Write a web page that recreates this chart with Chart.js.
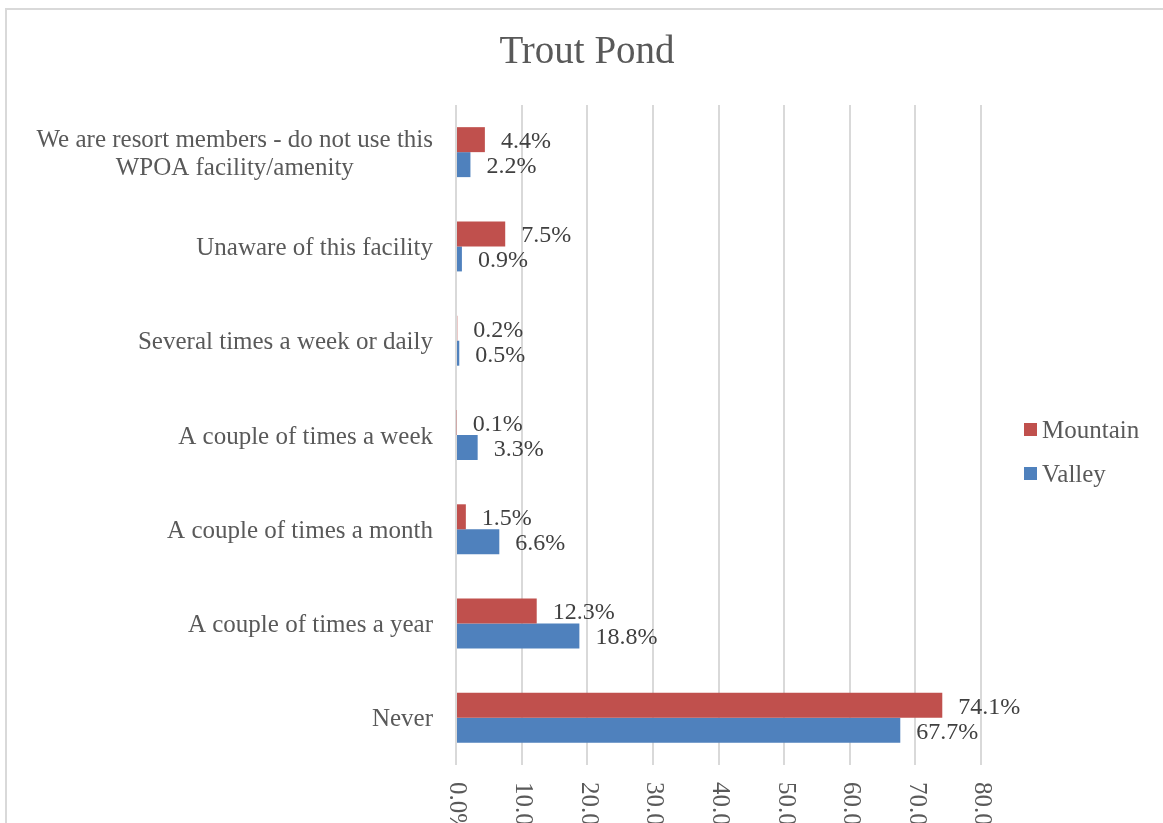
<!DOCTYPE html>
<html>
<head>
<meta charset="utf-8">
<script src="https://cdn.jsdelivr.net/npm/chart.js@4.4.1/dist/chart.umd.min.js"></script>
<style>
  html, body { margin: 0; padding: 0; background: #fff; overflow: hidden; }
  #box {
    position: absolute; left: 5px; top: 8px;
    width: 1160px; height: 860px;
    border: 2px solid #d9d9d9; background: #fff;
  }
  #chart { display: block; }
</style>
</head>
<body>
<div id="box"><canvas id="chart" width="1160" height="860"></canvas></div>
<script>
// ---- data ----
const categories = [
  ['We are resort members - do not use this', 'WPOA facility/amenity'],
  'Unaware of this facility',
  'Several times a week or daily',
  'A couple of times a week',
  'A couple of times a month',
  'A couple of times a year',
  'Never'
];
const mountainValues = [4.4, 7.5, 0.2, 0.1, 1.5, 12.3, 74.1];
const valleyValues = [2.2, 0.9, 0.5, 3.3, 6.6, 18.8, 67.7];
const xTickLabels = ['0.0%', '10.0%', '20.0%', '30.0%', '40.0%', '50.0%', '60.0%', '70.0%', '80.0%'];
const seriesNames = ['Mountain', 'Valley'];
const seriesColors = ['#C0504D', '#4F81BD'];

const FONT = "'Liberation Serif', 'Times New Roman', serif";

// tick labels, value labels and legend drawn on the canvas
const labelPlugin = {
  id: 'labelPlugin',
  afterDatasetsDraw(chart) {
    const ctx = chart.ctx;
    const area = chart.chartArea;
    const xs = chart.scales.x;
    const ys = chart.scales.y;
    ctx.save();

    // category labels (left)
    ctx.font = '25px ' + FONT;
    ctx.fillStyle = '#595959';
    ctx.textBaseline = 'middle';
    const right = area.left - 23;
    categories.forEach((lab, i) => {
      const cy = ys.getPixelForTick(i) + 2;
      if (Array.isArray(lab)) {
        const w = Math.max(...lab.map(l => ctx.measureText(l).width));
        ctx.textAlign = 'center';
        lab.forEach((l, j) => {
          ctx.fillText(l, right - w / 2, cy + (j - (lab.length - 1) / 2) * 28);
        });
      } else {
        ctx.textAlign = 'right';
        ctx.fillText(lab, right, cy);
      }
    });

    // x tick labels rotated clockwise
    xs.ticks.forEach((t, i) => {
      const px = xs.getPixelForValue(t.value);
      ctx.save();
      ctx.translate(px + 1, area.bottom + 17);
      ctx.rotate(Math.PI / 2);
      ctx.textAlign = 'left';
      ctx.textBaseline = 'middle';
      ctx.fillText(xTickLabels[i], 0, 0);
      ctx.restore();
    });

    // value labels
    ctx.font = '24px ' + FONT;
    ctx.fillStyle = '#404040';
    ctx.textAlign = 'left';
    ctx.textBaseline = 'middle';
    chart.data.datasets.forEach((ds, di) => {
      chart.getDatasetMeta(di).data.forEach((bar, i) => {
        ctx.fillText(ds.data[i].toFixed(1) + '%', bar.x + 16, bar.y + 2);
      });
    });

    // legend
    ctx.font = '25px ' + FONT;
    seriesNames.forEach((name, i) => {
      const cy = area.top + 324.5 + i * 44;
      const bx = area.right + 43;
      ctx.fillStyle = seriesColors[i];
      ctx.fillRect(bx, cy - 6.5, 13, 13);
      ctx.fillStyle = '#595959';
      ctx.fillText(name, bx + 18, cy + 2);
    });

    ctx.restore();
  }
};

new Chart(document.getElementById('chart'), {
  type: 'bar',
  data: {
    labels: categories,
    datasets: [
      { label: seriesNames[0], data: mountainValues, backgroundColor: seriesColors[0] },
      { label: seriesNames[1], data: valleyValues, backgroundColor: seriesColors[1] }
    ]
  },
  options: {
    indexAxis: 'y',
    responsive: false,
    animation: false,
    layout: { padding: { top: 10, left: 186, right: 186, bottom: 0 } },
    datasets: { bar: { categoryPercentage: 0.53, barPercentage: 1.0 } },
    plugins: {
      legend: { display: false },
      tooltip: { enabled: false },
      title: {
        display: true,
        text: 'Trout Pond',
        color: '#595959',
        font: { family: FONT, size: 39, weight: 'normal' },
        padding: { top: 9.4, bottom: 28.8 }
      }
    },
    scales: {
      x: {
        min: 0, max: 80,
        ticks: { stepSize: 10, display: false },
        grid: { color: '#d9d9d9', lineWidth: 2, drawTicks: false },
        border: { display: false },
        afterFit(s) { s.height = 105; }
      },
      y: {
        ticks: { display: false },
        grid: { display: false },
        border: { display: false },
        afterFit(s) { s.width = 263; }
      }
    }
  },
  plugins: [labelPlugin]
});
</script>
</body>
</html>
